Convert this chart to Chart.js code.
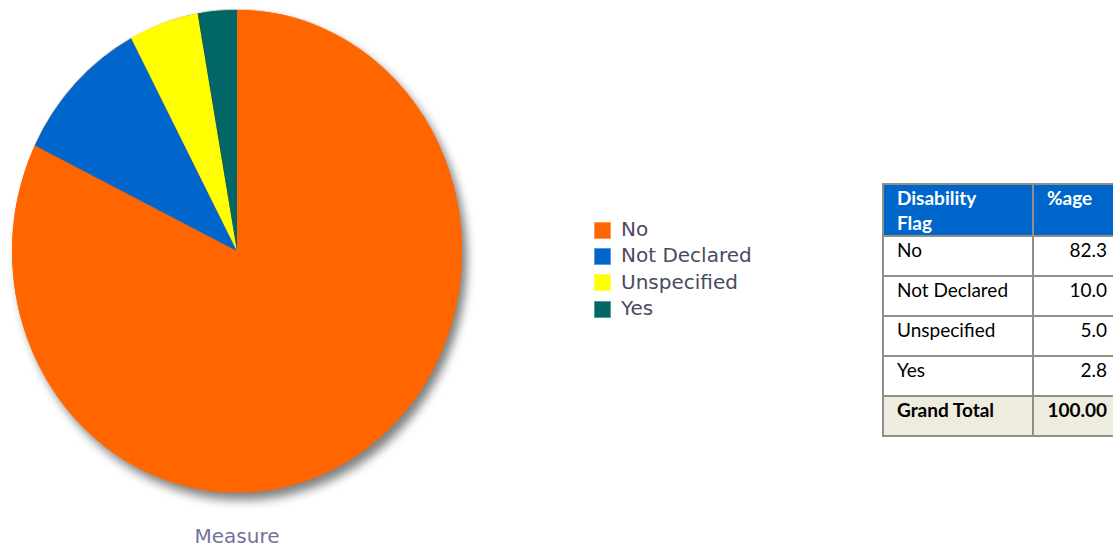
<!DOCTYPE html>
<html>
<head>
<meta charset="utf-8">
<script src="https://cdn.jsdelivr.net/npm/chart.js@4"></script>
<style>
  body { margin: 0; background: #fff; width: 1113px; height: 544px; overflow: hidden; position: relative; }
  #pieChart { position: absolute; left: 0; top: 0; transform: scaleY(1.073); transform-origin: 0 0; }
  #measure { position: absolute; left: 0; top: 524px; width: 474px; text-align: center;
             font: 20px "DejaVu Sans", sans-serif; color: #73739a; line-height: 24px; }
  #legend { position: absolute; left: 594px; top: 217px; font: 20px "DejaVu Sans", sans-serif; color: #4a4a5e; }
  #legend .item { height: 26.3px; display: flex; align-items: center; }
  #legend .box { width: 17px; height: 17px; margin-right: 10px; box-sizing: border-box; border: 1px solid rgba(255,255,255,0.35); }
  #legend .text { line-height: 20px; position: relative; top: -1px; }
  table { position: absolute; left: 882px; top: 183px; width: 236px; table-layout: fixed; border-collapse: collapse;
          font: 19px Lato, "Open Sans", sans-serif; color: #000; }
  td, th { border: 2px solid #8f8f87; vertical-align: top; padding: 0; }
  th { background: #0066cc; color: #fff; font-weight: bold; text-align: left; height: 51px; padding: 0 12px 0 13px; line-height: 25px; box-sizing: border-box; }
  td { height: 40px; padding: 2px 11px 0 13px; line-height: 22px; box-sizing: border-box; }
  td.num { text-align: right; }
  tr.total td { background: #eeebdf; font-weight: bold; }
</style>
</head>
<body>
<canvas id="pieChart" width="480" height="480"></canvas>
<div id="measure">Measure</div>
<div id="legend"></div>
<table id="dataTable"></table>
<script>
// data
const categories = ['No', 'Not Declared', 'Unspecified', 'Yes'];
const percentages = [82.3, 10.0, 5.0, 2.8];
const grandTotal = '100.00';
const sliceColors = ['#ff6600', '#0066cc', '#ffff00', '#006666'];
const tableHeaders = ['Disability<br>Flag', '%age'];

// grey drop shadow under the whole pie
const pieShadow = {
    id: 'pieShadow',
    beforeDatasetsDraw(chart) {
        const arc = chart.getDatasetMeta(0).data[0];
        if (!arc) return;
        const ctx = chart.ctx;
        ctx.save();
        ctx.shadowColor = 'rgba(0, 0, 0, 0.5)';
        ctx.shadowBlur = 10;
        ctx.shadowOffsetX = 5;
        ctx.shadowOffsetY = 7;
        ctx.beginPath();
        ctx.arc(arc.x, arc.y, arc.outerRadius, 0, Math.PI * 2);
        ctx.fillStyle = '#ff6600';
        ctx.fill();
        ctx.restore();
    }
};

new Chart(document.getElementById('pieChart'), {
    type: 'pie',
    data: {
        labels: categories,
        datasets: [{
            data: percentages,
            backgroundColor: sliceColors,
            borderWidth: 0,
            hoverOffset: 0
        }]
    },
    options: {
        responsive: false,
        animation: false,
        layout: { padding: { left: 12, right: 18, top: 9, bottom: 21 } },
        plugins: {
            legend: { display: false },
            tooltip: { enabled: false }
        }
    },
    plugins: [pieShadow]
});

// legend
const legend = document.getElementById('legend');
categories.forEach((label, i) => {
    legend.innerHTML += '<div class="item"><span class="box" style="background:' + sliceColors[i] +
        '"></span><span class="text">' + label + '</span></div>';
});

// table
let rows = '<tr><th style="width:150px">' + tableHeaders[0] + '</th><th style="width:86px">' + tableHeaders[1] + '</th></tr>';
categories.forEach((label, i) => {
    rows += '<tr><td>' + label + '</td><td class="num">' + percentages[i].toFixed(1) + '</td></tr>';
});
rows += '<tr class="total"><td>Grand Total</td><td class="num">' + grandTotal + '</td></tr>';
document.getElementById('dataTable').innerHTML = rows;
</script>
</body>
</html>
